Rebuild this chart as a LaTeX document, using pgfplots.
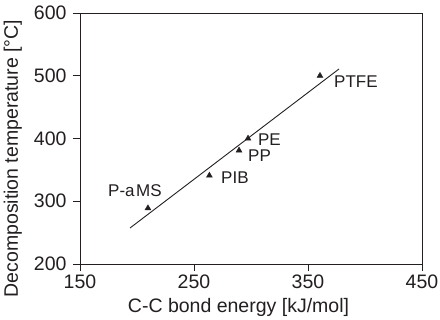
\documentclass[border=0pt]{standalone}
\usepackage{pgfplots}
\pgfplotsset{compat=1.18}
\usepackage{fontspec}
\setmainfont{Liberation Sans}
\definecolor{ink}{HTML}{231F20}
\begin{document}
\begin{tikzpicture}
\begin{axis}[
  scale only axis,
  width=342bp, height=251bp,
  xmin=150, xmax=450, ymin=200, ymax=600,
  xtick={150,250,350,450}, ytick={200,300,400,500,600},
  xtick pos=bottom, ytick pos=left,
  tick align=outside,
  major tick length=7bp,
  axis line style={ink, line width=0.9bp},
  every tick/.style={ink, line width=0.9bp},
  /pgf/number format/assume math mode=true,
  tick label style={font=\fontsize{19.5bp}{21bp}\selectfont, text=ink},
  yticklabel style={xshift=-3bp},
  label style={font=\fontsize{19.5bp}{22bp}\selectfont, text=ink},
  xlabel={C-C bond energy [kJ/mol]},
  ylabel={Decomposition temperature [°C]},
  xlabel style={at={(axis description cs:0.4635,-0.1952)}, anchor=base},
  ylabel style={at={(axis description cs:-0.1813,0.42)}, anchor=base},
  clip=false,
]
\coordinate (sw) at (rel axis cs:0,0);
\coordinate (ne) at (rel axis cs:1,1);
\addplot[only marks, mark=triangle*, mark size=3.4bp, ink] coordinates {
  (360.5,500) (297.4,400) (289.5,381) (263.5,341) (209.6,289)
};
\addplot[ink, line width=0.9bp] coordinates {(193.9,257.4) (377.2,510.8)};
\begin{scope}[every node/.style={font=\fontsize{17bp}{19bp}\selectfont, text=ink, anchor=base west, inner sep=0pt}]
\node at (axis cs:372.8,480.5) {PTFE};
\node at (axis cs:306,389.6) {PE};
\node at (axis cs:297.4,364) {PP};
\node at (axis cs:273.7,327.5) {PIB};
\node at (axis cs:174.6,306.8) {P-a\kern1.5bp MS};
\end{scope}
\end{axis}
\pgfresetboundingbox
\path[use as bounding box] ([shift={(-80bp,-56bp)}]sw) rectangle ([shift={(18bp,13bp)}]ne);
\end{tikzpicture}
\end{document}
